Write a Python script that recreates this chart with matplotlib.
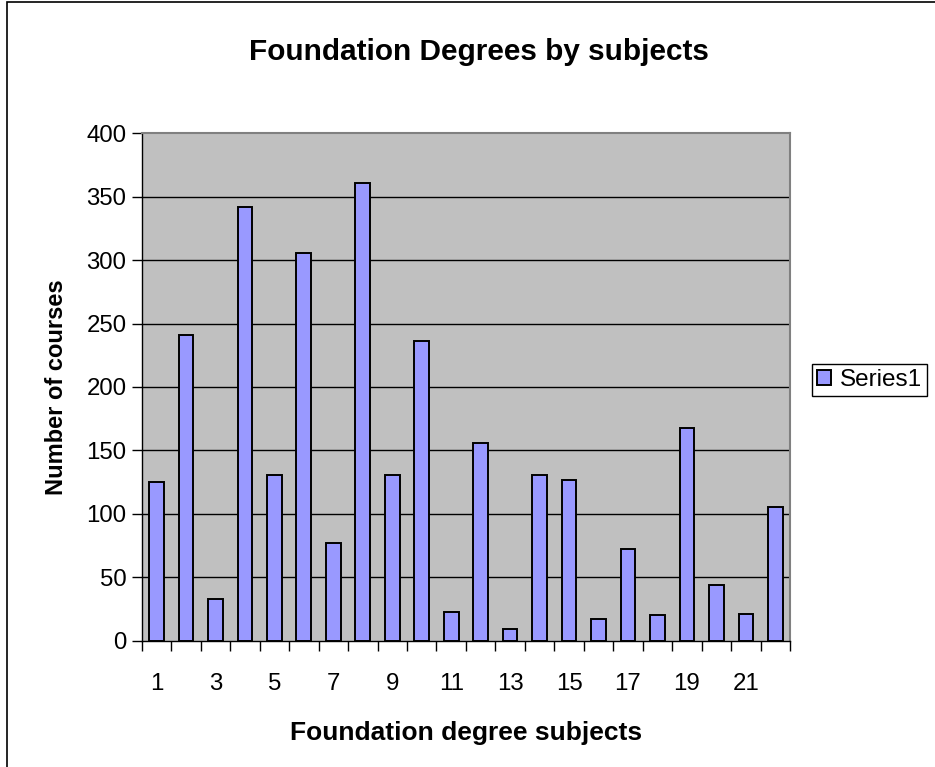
import matplotlib.pyplot as plt
from matplotlib.patches import Rectangle

subjects = list(range(1, 23))
courses = [125, 241, 33, 342, 131, 306, 77, 361, 131, 236, 23,
           156, 9, 131, 127, 17, 72, 20, 168, 44, 21, 105]
label_subjects = list(range(1, 23, 2))
y_ticks = list(range(0, 401, 50))

plt.rcParams["font.family"] = ["Liberation Sans", "DejaVu Sans"]

fig = plt.figure(figsize=(9.35, 7.67), dpi=100)
ax = fig.add_axes([0.1516, 0.1647, 0.6934, 0.6615])

ax.set_facecolor("#C0C0C0")
ax.bar(subjects, courses, width=0.5, color="#9999FF", edgecolor="black",
       linewidth=1.4, label="Series1", zorder=3)

ax.set_xlim(0.5, 22.5)
ax.set_ylim(0, 400)
ax.set_yticks(y_ticks)
ax.tick_params(axis="y", direction="out", length=7, width=1, labelsize=17.3, pad=4)

# tick marks between categories, labels on every other category
ax.set_xticks([i + 0.5 for i in range(0, 23)])
ax.set_xticklabels([])
ax.tick_params(axis="x", which="major", direction="out", length=7, width=1)
ax.set_xticks(label_subjects, minor=True)
ax.set_xticklabels([str(s) for s in label_subjects], minor=True)
ax.tick_params(axis="x", which="minor", length=0, labelsize=17.3, pad=23)

for v in y_ticks[1:-1]:
    ax.axhline(v, color="black", linewidth=1, zorder=1)

for side in ["top", "right"]:
    ax.spines[side].set_color("#808080")
    ax.spines[side].set_linewidth(1.5)
for side in ["left", "bottom"]:
    ax.spines[side].set_color("black")
    ax.spines[side].set_linewidth(1)

ax.set_ylabel("Number of courses", fontsize=17, fontweight="bold", labelpad=13)
ax.set_xlabel("Foundation degree subjects", fontsize=19, fontweight="bold", labelpad=19)

fig.text(0.512, 1 - 52 / 767, "Foundation Degrees by subjects", fontsize=21.4,
         fontweight="bold", ha="center", va="center")

fig.legend(loc="center left", bbox_to_anchor=(812 / 935, 1 - 380 / 767),
           fontsize=17.5, frameon=True, fancybox=False, edgecolor="black",
           framealpha=1, handlelength=0.6, handleheight=0.6, handletextpad=0.35,
           borderpad=0.2, borderaxespad=0)

# outer chart border
fig.add_artist(Rectangle((7 / 935, -0.1), 1.2, 1.1 - 1.5 / 767, transform=fig.transFigure,
                         fill=False, edgecolor="black", linewidth=1.2))

fig.savefig("out.png", dpi=100)
